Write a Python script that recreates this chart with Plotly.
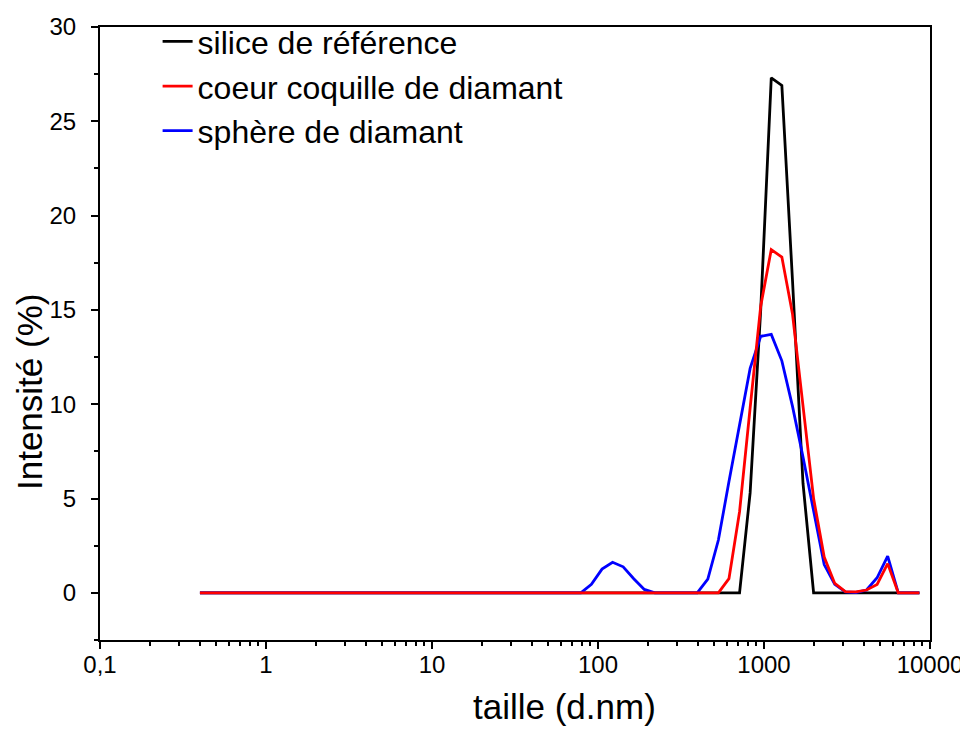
import plotly.graph_objects as go

# Size classes (d.nm)
sizes = [0.4, 0.4632, 0.5365, 0.6213, 0.7195, 0.8332, 0.9649, 1.117, 1.294, 1.499,
         1.736, 2.01, 2.328, 2.696, 3.122, 3.615, 4.187, 4.849, 5.615, 6.503,
         7.531, 8.721, 10.1, 11.7, 13.54, 15.69, 18.17, 21.04, 24.36, 28.21,
         32.67, 37.84, 43.82, 50.75, 58.77, 68.06, 78.82, 91.28, 105.7, 122.4,
         141.8, 164.2, 190.1, 220.2, 255.0, 295.3, 342.0, 396.1, 458.7, 531.2,
         615.1, 712.4, 825.0, 955.4, 1106, 1281, 1484, 1718, 1990, 2305,
         2669, 3091, 3580, 4145, 4801, 5560, 6439, 7456, 8635]

silice_reference = [0, 0, 0, 0, 0, 0, 0, 0, 0, 0,
                    0, 0, 0, 0, 0, 0, 0, 0, 0, 0,
                    0, 0, 0, 0, 0, 0, 0, 0, 0, 0,
                    0, 0, 0, 0, 0, 0, 0, 0, 0, 0,
                    0, 0, 0, 0, 0, 0, 0, 0, 0, 0,
                    0, 0, 5.3, 15.0, 27.3, 26.9, 16.6, 5.8, 0, 0,
                    0, 0, 0, 0, 0, 0, 0, 0, 0]

coeur_coquille = [0, 0, 0, 0, 0, 0, 0, 0, 0, 0,
                  0, 0, 0, 0, 0, 0, 0, 0, 0, 0,
                  0, 0, 0, 0, 0, 0, 0, 0, 0, 0,
                  0, 0, 0, 0, 0, 0, 0, 0, 0, 0,
                  0, 0, 0, 0, 0, 0, 0, 0, 0, 0,
                  0.75, 4.3, 9.8, 15.2, 18.2, 17.8, 14.8, 9.8, 5.0, 1.9,
                  0.5, 0.06, 0.05, 0.15, 0.45, 1.55, 0, 0, 0]

sphere_diamant = [0, 0, 0, 0, 0, 0, 0, 0, 0, 0,
                  0, 0, 0, 0, 0, 0, 0, 0, 0, 0,
                  0, 0, 0, 0, 0, 0, 0, 0, 0, 0,
                  0, 0, 0, 0, 0, 0, 0, 0.45, 1.26, 1.62,
                  1.38, 0.75, 0.18, 0, 0, 0, 0, 0, 0.73, 2.8,
                  5.9, 8.9, 11.9, 13.6, 13.7, 12.3, 9.9, 7.2, 4.3, 1.5,
                  0.45, 0.05, 0.02, 0.15, 0.8, 1.95, 0, 0, 0]

names = ["silice de référence", "coeur coquille de diamant", "sphère de diamant"]
colors = ["#000000", "#ff0000", "#0000ff"]

x_tickvals = [0.1, 1, 10, 100, 1000, 10000]
x_ticktext = ["0,1", "1", "10", "100", "1000", "10000"]
x_title = "taille (d.nm)"
y_title = "Intensité (%)"

FONT = "Liberation Sans, Arial, sans-serif"

fig = go.Figure()
fig.add_trace(go.Scatter(x=sizes, y=silice_reference, mode="lines", name=names[0],
                         line=dict(color=colors[0], width=2.8), legendrank=1))
fig.add_trace(go.Scatter(x=sizes, y=sphere_diamant, mode="lines", name=names[2],
                         line=dict(color=colors[2], width=2.8), legendrank=3))
fig.add_trace(go.Scatter(x=sizes, y=coeur_coquille, mode="lines", name=names[1],
                         line=dict(color=colors[1], width=2.8), legendrank=2))

minor_x = [m * 10 ** e for e in range(-1, 4) for m in range(2, 10)]

fig.update_layout(
    width=960, height=730,
    margin=dict(l=92, r=38, t=19, b=98, autoexpand=False),
    paper_bgcolor="white", plot_bgcolor="white",
    font=dict(family=FONT, color="black", size=24),
    showlegend=True,
    legend=dict(x=0.0694, y=1.021, xanchor="left", yanchor="top",
                font=dict(size=32, family=FONT), bgcolor="rgba(0,0,0,0)",
                tracegroupgap=0, itemwidth=30),
    xaxis=dict(type="log", range=[-1, 4], automargin=False,
               tickmode="array", tickvals=x_tickvals, ticktext=x_ticktext,
               ticks="outside", ticklen=7, tickwidth=2, tickcolor="black",
               showline=True, linecolor="black", linewidth=2, mirror=True,
               showgrid=False, zeroline=False, ticklabelstandoff=-5,
               tickfont=dict(size=24, family=FONT),
               minor=dict(ticks="outside", ticklen=4, tickwidth=1.5, tickcolor="black",
                          tickmode="array", tickvals=minor_x, showgrid=False)),
    yaxis=dict(range=[-2.5, 30], automargin=False, tickmode="linear", tick0=0, dtick=5,
               ticks="outside", ticklen=7, tickwidth=2, tickcolor="black",
               showline=True, linecolor="black", linewidth=2, mirror=True,
               showgrid=False, zeroline=False, ticklabelstandoff=10,
               tickfont=dict(size=24, family=FONT),
               minor=dict(ticks="outside", ticklen=4, tickwidth=1.5, tickcolor="black",
                          dtick=2.5, tick0=0, showgrid=False)),
    annotations=[
        dict(text=x_title, xref="paper", yref="paper", x=0.560, y=-0.1077,
             xanchor="center", yanchor="middle", showarrow=False,
             font=dict(size=35, family=FONT, color="black")),
        dict(text=y_title, xref="paper", yref="paper", x=-0.0843, y=0.4046,
             xanchor="center", yanchor="middle", showarrow=False, textangle=-90,
             font=dict(size=35, family=FONT, color="black")),
    ],
)

fig.write_html("out.html")
